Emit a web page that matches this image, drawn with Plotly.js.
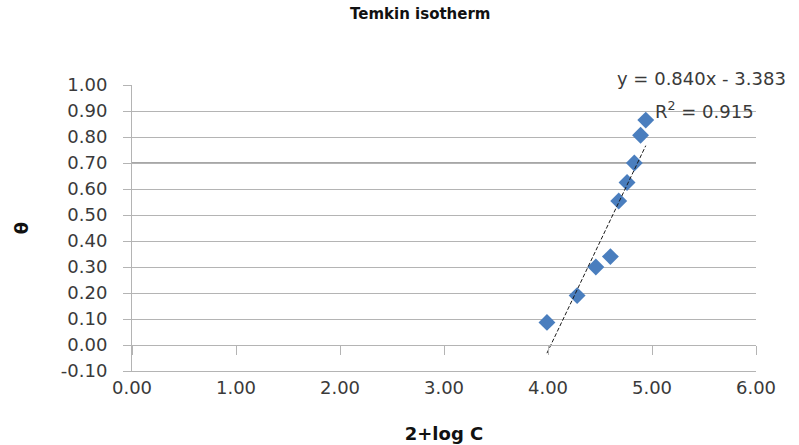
<!DOCTYPE html>
<html>
<head>
<meta charset="utf-8">
<script src="https://cdn.plot.ly/plotly-3.0.1.min.js"></script>
<style>html,body{margin:0;padding:0;background:#fff;}#chart{width:799px;height:445px;}</style>
</head>
<body>
<div id="chart"></div>
<script>
// Data
const logC = [3.99, 4.28, 4.46, 4.60, 4.68, 4.76, 4.83, 4.89, 4.94];
const theta = [0.087, 0.19, 0.30, 0.34, 0.554, 0.625, 0.70, 0.807, 0.865];
// Linear trendline shown on chart: y = 0.840x - 3.383, R² = 0.915
const slope = 0.840;
const intercept = -3.383;
const r2 = 0.915;
const xTickVals = [0, 1, 2, 3, 4, 5, 6];
const yTickVals = [-0.1, 0, 0.1, 0.2, 0.3, 0.4, 0.5, 0.6, 0.7, 0.8, 0.9, 1.0];
const highlightY = 0.70;

const xMin = Math.min(...logC), xMax = Math.max(...logC);
const trendX = [xMin, xMax];
const trendY = trendX.map(v => slope * v + intercept);

const tickFont = {family: 'DejaVu Sans', size: 18, color: '#3a3a3a'};
const grid = '#b4b4b4';

const traces = [
  {
    x: trendX, y: trendY, xaxis: 'x2', yaxis: 'y',
    mode: 'lines', type: 'scatter',
    line: {color: '#1a1a1a', width: 1, dash: '4px,2px'},
    hoverinfo: 'skip', showlegend: false
  },
  {
    x: logC, y: theta, xaxis: 'x', yaxis: 'y',
    mode: 'markers', type: 'scatter',
    marker: {symbol: 'diamond', size: 13, color: '#4a7ebe'},
    showlegend: false
  }
];

const layout = {
  width: 799, height: 445,
  margin: {l: 132, r: 43, t: 85, b: 74},
  paper_bgcolor: '#fff', plot_bgcolor: '#fff',
  showlegend: false,
  title: {
    text: 'Temkin isotherm',
    font: {family: 'DejaVu Sans', size: 15, weight: 'bold', color: '#111'},
    x: 0.526, xref: 'container', xanchor: 'center',
    y: 0.968, yref: 'container', yanchor: 'middle'
  },
  xaxis: {
    range: [0, 6], tickvals: xTickVals, ticktext: xTickVals.map(v => v.toFixed(2)),
    showgrid: false, zeroline: false,
    showline: true, linecolor: grid, linewidth: 1,
    ticks: '', tickfont: tickFont,
    title: {text: '2+log C', font: {family: 'DejaVu Sans', size: 18, weight: 'bold', color: '#111'}, standoff: 30}
  },
  xaxis2: {
    overlaying: 'x', matches: 'x', anchor: 'free',
    position: 0.1 / 1.1, side: 'bottom',
    range: [0, 6], tickvals: xTickVals,
    showticklabels: false, showgrid: false, zeroline: false,
    showline: true, linecolor: grid, linewidth: 1,
    ticks: 'outside', ticklen: 9, tickcolor: grid, tickwidth: 1
  },
  yaxis: {
    range: [-0.1, 1.0], tickvals: yTickVals, ticktext: yTickVals.map(v => v.toFixed(2)),
    showgrid: true, gridcolor: grid, gridwidth: 1,
    zeroline: false,
    showline: true, linecolor: grid, linewidth: 1,
    ticks: 'outside', ticklen: 8, tickcolor: grid,
    tickfont: tickFont, ticklabelstandoff: 12,
    title: {text: 'θ', font: {family: 'DejaVu Sans', size: 18, weight: 'bold', color: '#111'}, standoff: 27}
  },
  shapes: [
    {type: 'line', xref: 'paper', x0: 0, x1: 1, yref: 'y', y0: highlightY, y1: highlightY,
     line: {color: '#8a8a8a', width: 1.6}, layer: 'below'}
  ],
  annotations: [
    {text: 'y = ' + slope.toFixed(3) + 'x - ' + Math.abs(intercept).toFixed(3),
     xref: 'paper', yref: 'paper', x: 0.913, y: 1.023, xanchor: 'center', yanchor: 'middle',
     showarrow: false, font: {family: 'DejaVu Sans', size: 18, color: '#3a3a3a'}},
    {text: 'R<sup>2</sup> = ' + r2.toFixed(3),
     xref: 'paper', yref: 'paper', x: 0.917, y: 0.911, xanchor: 'center', yanchor: 'middle',
     showarrow: false, font: {family: 'DejaVu Sans', size: 18, color: '#3a3a3a'}}
  ]
};

Plotly.newPlot('chart', traces, layout, {displayModeBar: false, staticPlot: true});
</script>
</body>
</html>
